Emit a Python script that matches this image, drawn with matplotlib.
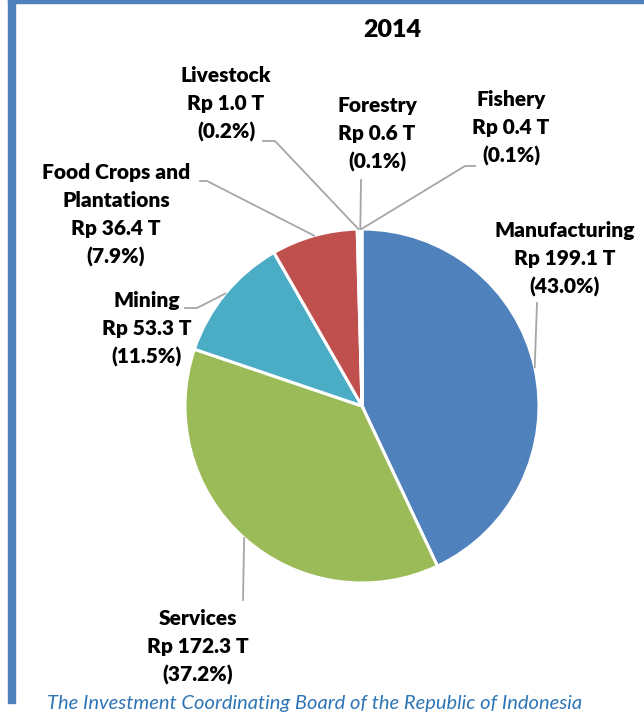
import numpy as np
import matplotlib
matplotlib.use("Agg")
import matplotlib.pyplot as plt

plt.rcParams['font.family'] = ['Lato', 'DejaVu Sans']

# data
sectors = ["Manufacturing", "Services", "Mining", "Food Crops and\nPlantations",
           "Livestock", "Forestry", "Fishery"]
values = [199.1, 172.3, 53.3, 36.4, 1.0, 0.6, 0.4]
percents = ["43.0%", "37.2%", "11.5%", "7.9%", "0.2%", "0.1%", "0.1%"]
colors = ["#4F81BD", "#9BBB59", "#4BACC6", "#C0504D", "#F79646", "#8064A2", "#2C4D75"]

W, H = 644, 714
cx, cy, R = 362, 406, 177  # pie centre / radius in pixels

fig = plt.figure(figsize=(W / 100, H / 100), dpi=100, facecolor='white')
ax = fig.add_axes([(cx - R) / W, (H - cy - R) / H, 2 * R / W, 2 * R / H])

wedges, _ = ax.pie(values, startangle=90, counterclock=False, colors=colors,
                   radius=1, wedgeprops=dict(edgecolor='white', linewidth=2.2))
ax.set_xlim(-1, 1)
ax.set_ylim(-1, 1)
ax.set_aspect('equal')
ax.axis('off')


def px(x, y):
    # pixel position -> data coords of the pie axes
    return (x - cx) / R, (cy - y) / R


# label centre (px), leader start (px), elbow (px)
layout = {
    "Manufacturing": ((565, 259), (537, 303), (537, 303)),
    "Services": ((198, 647), (243, 600), (243, 600)),
    "Mining": ((147, 329), (185, 308), (197, 308)),
    "Food Crops and\nPlantations": ((116, 215), (200, 181), (207, 181)),
    "Livestock": ((226, 104), (263, 141), (275, 141)),
    "Forestry": ((377, 134), (361, 180), (361, 180)),
    "Fishery": ((511, 128), (475, 166), (465, 166)),
}

for w, name, v, p in zip(wedges, sectors, values, percents):
    (tx, ty), start, elbow = layout[name]
    ax.text(*px(tx, ty), f"{name}\nRp {v:.1f} T\n({p})", ha='center', va='center',
            fontsize=15, fontweight='heavy', linespacing=1.55, color='black')
    ang = np.deg2rad((w.theta1 + w.theta2) / 2)
    ex, ey = np.cos(ang), np.sin(ang)
    xs = [px(*start)[0], px(*elbow)[0], ex]
    ys = [px(*start)[1], px(*elbow)[1], ey]
    ax.plot(xs, ys, color='#A6A6A6', linewidth=1.3, clip_on=False)

fig.text(392 / W, 1 - 30 / H, "2014", ha='center', va='center',
         fontsize=18, fontweight='heavy')

# frame decorations
fig.patches.append(plt.Rectangle((8 / W, 1 - 703 / H), 7 / W, 703 / H,
                                 transform=fig.transFigure, color='#4F81BD'))
fig.patches.append(plt.Rectangle((8 / W, 1 - 3 / H), 1, 3 / H,
                                 transform=fig.transFigure, color='#4F81BD'))

fig.text(47 / W, 1 - 712 / H, "The Investment Coordinating Board of the Republic of Indonesia",
         ha='left', va='bottom', fontsize=14.5, style='italic', color='#2E75B6')

fig.savefig("out.png", dpi=100, facecolor='white')
